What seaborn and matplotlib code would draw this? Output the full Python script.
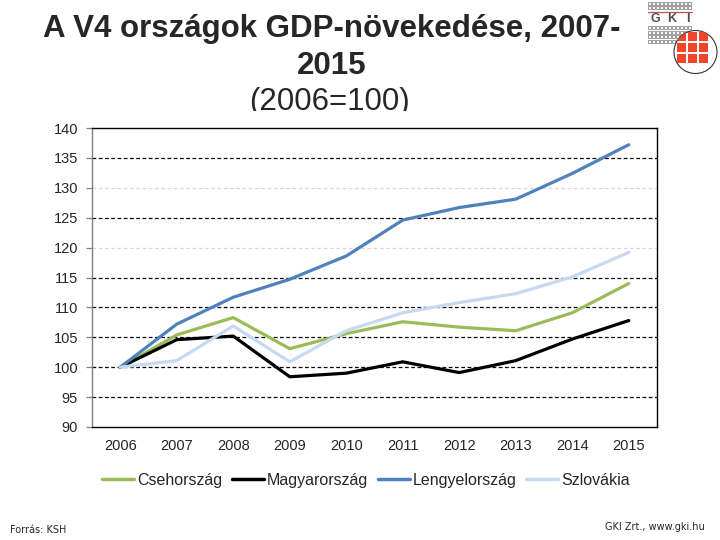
import matplotlib
matplotlib.use("Agg")
import matplotlib.pyplot as plt
from matplotlib.patches import Rectangle, Circle
import seaborn as sns
import pandas as pd

years = [2006, 2007, 2008, 2009, 2010, 2011, 2012, 2013, 2014, 2015]
countries = ["Csehország", "Magyarország", "Lengyelország", "Szlovákia"]
cseh = [100, 105.4, 108.3, 103.1, 105.6, 107.6, 106.7, 106.1, 109.1, 114.0]
magyar = [100, 104.6, 105.2, 98.4, 99.0, 100.9, 99.1, 101.1, 104.7, 107.8]
lengyel = [100, 107.2, 111.7, 114.7, 118.6, 124.6, 126.7, 128.1, 132.4, 137.2]
szlovak = [100, 101.1, 106.9, 100.9, 106.1, 109.1, 110.8, 112.3, 115.1, 119.2]
colors = ["#9BBB59", "#000000", "#4F81BD", "#C6D9F1"]
yticks = [90, 95, 100, 105, 110, 115, 120, 125, 130, 135, 140]

sns.set_style("white")
plt.rcParams["font.family"] = ["Liberation Sans", "DejaVu Sans"]

rows = []
for name, vals in zip(countries, [cseh, magyar, lengyel, szlovak]):
    for y, v in zip(years, vals):
        rows.append({"Év": y, "Érték": v, "Ország": name})
df = pd.DataFrame(rows)

fig = plt.figure(figsize=(7.2, 5.4), dpi=100)
ax = fig.add_axes([92 / 720, 1 - 427 / 540, (657 - 92) / 720, (427 - 128) / 540])

# gridlines
for t in yticks[1:-1]:
    col = "#d8d8d8" if t in (120, 130) else "black"
    ax.axhline(t, color=col, lw=0.9, ls=(0, (3, 2)), zorder=1)

sns.lineplot(data=df, x="Év", y="Érték", hue="Ország", hue_order=countries,
             palette=colors, linewidth=2.3, ax=ax, zorder=3)

ax.set_xlim(2005.5, 2015.5)
ax.set_ylim(90, 140)
ax.set_yticks(yticks)
ax.set_yticklabels([str(t) for t in yticks], fontsize=10.5)
ax.set_xticks(years)
ax.set_xticklabels([str(y) for y in years], fontsize=10.5)
ax.set_xticks([y - 0.5 for y in years] + [2015.5], minor=True)
ax.tick_params(axis="x", which="major", length=0, pad=9)
ax.tick_params(axis="x", which="minor", length=5, width=0.9, color="black", direction="out")
ax.tick_params(axis="y", which="major", length=4, width=0.9, color="#808080", direction="out", pad=6, left=True)
ax.set_xlabel("")
ax.set_ylabel("")
for s in ["top", "right", "bottom"]:
    ax.spines[s].set_color("black")
    ax.spines[s].set_linewidth(1.0)
ax.spines["left"].set_color("#808080")
ax.spines["left"].set_linewidth(1.0)

sns.move_legend(ax, "center", bbox_to_anchor=(0.485, -0.178), ncol=4, frameon=False,
                title=None, fontsize=11.5, handlelength=2.0, handletextpad=0.2,
                columnspacing=0.6)
for line in ax.get_legend().get_lines():
    line.set_linewidth(2.5)

# titles
fig.text(0.461, 1 - 29 / 540, "A V4 országok GDP-növekedése, 2007-", ha="center", va="center",
         fontsize=22.5, fontweight="bold")
fig.text(0.461, 1 - 66 / 540, "2015", ha="center", va="center", fontsize=22.5, fontweight="bold")
fig.text(0.458, 1 - 102 / 540, "(2006=100)", ha="center", va="center", fontsize=22.5)
fig.add_artist(Rectangle((0.25, 1 - 127 / 540), 0.45, 16 / 540, transform=fig.transFigure,
                         facecolor="white", edgecolor="none", zorder=10))

# footer
fig.text(10 / 720, 1 - 530 / 540, "Forrás: KSH", ha="left", va="center", fontsize=7,
         family="DejaVu Sans")
fig.text(705 / 720, 1 - 527 / 540, "GKI Zrt., www.gki.hu", ha="right", va="center", fontsize=7,
         family="DejaVu Sans")

# logo
lax = fig.add_axes([645 / 720, 1 - 75 / 540, 75 / 720, 75 / 540])
lax.set_xlim(0, 75)
lax.set_ylim(75, 0)
lax.axis("off")
for ry in [1.5, 5.5]:
    for cx in range(0, 11):
        lax.add_patch(Rectangle((3 + cx * 4, ry), 3.0, 3.0, facecolor="white",
                                edgecolor="#8a8a8a", lw=0.6))
for ry in [26, 30.5, 35, 39.5]:
    for cx in range(0, 11):
        lax.add_patch(Rectangle((3 + cx * 4, ry), 3.0, 3.4, facecolor="white",
                                edgecolor="#8a8a8a", lw=0.6))
lax.plot([3, 47], [11.5, 11.5], color="#c0504d", lw=0.9)
for gx, ch in zip([10, 27, 43], ["G", "K", "I"]):
    lax.text(gx, 18.5, ch, ha="center", va="center", fontsize=9, fontweight="bold", color="#505050")
circ = Circle((50.5, 52), 21.5, facecolor="white", edgecolor="#333333", lw=0.8, zorder=3)
lax.add_patch(circ)
for i in range(3):
    for j in range(3):
        sq = Rectangle((32 + i * 11, 32 + j * 11), 9, 9, facecolor="#f0452a", edgecolor="none", zorder=4)
        lax.add_patch(sq)
        sq.set_clip_path(circ)

fig.savefig("out.png", dpi=100)
